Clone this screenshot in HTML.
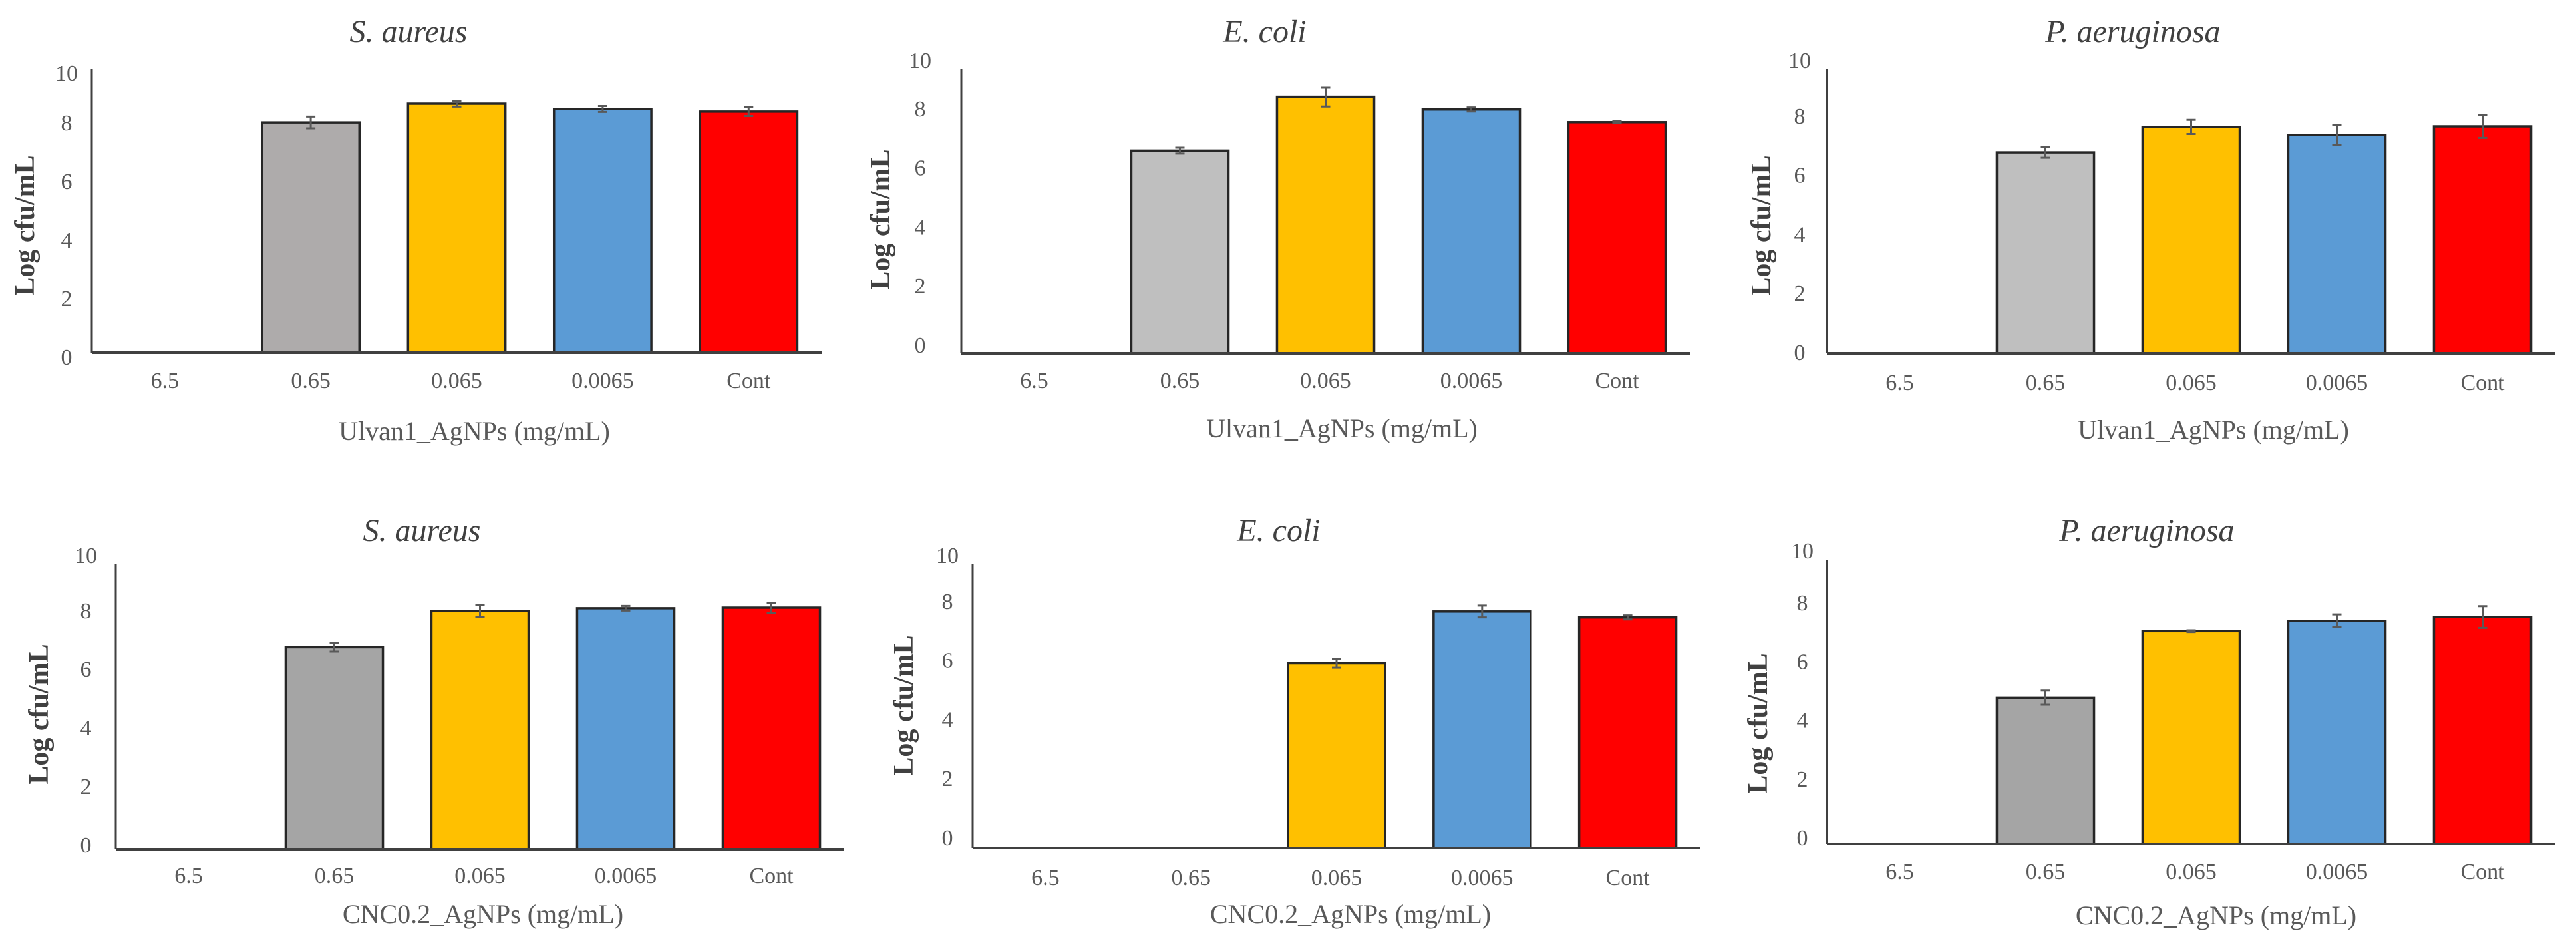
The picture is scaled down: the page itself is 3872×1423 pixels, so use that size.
<!DOCTYPE html>
<html><head><meta charset="utf-8">
<style>
html,body{margin:0;padding:0;background:#fff;}
svg{display:block;font-family:"Liberation Serif",serif;}
</style></head>
<body>
<svg id="fig" width="3872" height="1423" viewBox="0 0 3872 1423" xmlns="http://www.w3.org/2000/svg"></svg>
<script>
const categories = ["6.5","0.65","0.065","0.0065","Cont"];
const yTicks = [0,2,4,6,8,10];
const titles = ["S. aureus","E. coli","P. aeruginosa","S. aureus","E. coli","P. aeruginosa"];
const xTitles = ["Ulvan1_AgNPs (mg/mL)","Ulvan1_AgNPs (mg/mL)","Ulvan1_AgNPs (mg/mL)","CNC0.2_AgNPs (mg/mL)","CNC0.2_AgNPs (mg/mL)","CNC0.2_AgNPs (mg/mL)"];
const valsTL = [0, 7.86, 8.5, 8.32, 8.23];
const errsTL = [0, 0.2, 0.1, 0.1, 0.15];
const valsTM = [0, 6.86, 8.68, 8.25, 7.82];
const errsTM = [0, 0.1, 0.33, 0.07, 0.03];
const valsTR = [0, 6.8, 7.66, 7.39, 7.68];
const errsTR = [0, 0.18, 0.24, 0.33, 0.39];
const valsBL = [0, 6.9, 8.14, 8.23, 8.25];
const errsBL = [0, 0.15, 0.2, 0.08, 0.17];
const valsBM = [0, 0, 6.25, 8.0, 7.8];
const errsBM = [0, 0, 0.15, 0.2, 0.07];
const valsBR = [0, 4.98, 7.25, 7.6, 7.73];
const errsBR = [0, 0.24, 0.03, 0.22, 0.37];

const allVals=[valsTL,valsTM,valsTR,valsBL,valsBM,valsBR];
const allErrs=[errsTL,errsTM,errsTR,errsBL,errsBM,errsBR];
const geo=[
 {x0:138,x1:1235,base:530,top:104,unit:44,lo:6,tx:614,ty:47,xty:571,xtx:713,xtyy:647,ylx:37,yly:339,tlx:100,gray:"#aeabab"},
 {x0:1445,x1:2540,base:531,top:104,unit:44.4,lo:-13,tx:1901,ty:47,xty:571,xtx:2017,xtyy:643,ylx:1323,yly:330,tlx:1383,gray:"#bfbfbf"},
 {x0:2746,x1:3841,base:531,top:104,unit:44.4,lo:-2,tx:3206,ty:47,xty:574,xtx:3327,xtyy:645,ylx:2647,yly:339,tlx:2705,gray:"#bfbfbf"},
 {x0:174,x1:1269,base:1276,top:848,unit:44,lo:-7,tx:634,ty:797,xty:1315,xtx:726,xtyy:1373,ylx:58,yly:1073,tlx:129,gray:"#a5a5a5"},
 {x0:1462,x1:2556,base:1274,top:848,unit:44.4,lo:-16,tx:1922,ty:797,xty:1318,xtx:2030,xtyy:1373,ylx:1358,yly:1060,tlx:1424,gray:"#a5a5a5"},
 {x0:2746,x1:3841,base:1268,top:841,unit:44.1,lo:-10,tx:3227,ty:797,xty:1309,xtx:3331,xtyy:1375,ylx:2642,yly:1087,tlx:2709,gray:"#a5a5a5"}
];
const NS="http://www.w3.org/2000/svg";
const svg=document.getElementById('fig');
function mk(tag,attrs,parent,text){const e=document.createElementNS(NS,tag);for(const k in attrs)e.setAttribute(k,attrs[k]);if(text!==undefined)e.textContent=text;parent.appendChild(e);return e;}
geo.forEach((g,p)=>{
  const grp=mk('g',{},svg);
  
  
  const colors=[g.gray,g.gray,"#ffc000","#5b9bd5","#ff0000"];
  const band=(g.x1-g.x0)/5;
  const xC=i=>g.x0+band*(i+0.5);
  const yS=v=>g.base-v*g.unit;
  const t=mk('text',{x:g.tx,y:g.ty+16,'font-size':48,'font-style':'italic','text-anchor':'middle',fill:'#404040'},grp,titles[p]);
  
  
  yTicks.forEach(v=>{
    let y=yS(v)+g.lo; if(v===10) y=Math.max(y,g.top+ (g.lo>0?5:-14));
    const tl=mk('text',{x:g.tlx,y:y+12,'font-size':34,'text-anchor':'middle',fill:'#595959'},grp,String(v));
    
    
  });
  const yl=mk('text',{x:0,y:0,'font-size':42,'font-weight':'bold','text-anchor':'middle',fill:'#404040',transform:`translate(${g.ylx+14},${g.yly}) rotate(-90)`},grp,'Log cfu/mL');
  
  
  allVals[p].forEach((v,i)=>{
    if(v<=0) return;
    const w=band*0.667;
    const r=mk('rect',{x:xC(i)-w/2,y:yS(v),width:w,height:g.base-yS(v),fill:colors[i],stroke:'#262626','stroke-width':3.5},grp);
    
    
    const e=allErrs[p][i];
    const eb=mk('path',{d:`M${xC(i)} ${yS(v+e)}V${yS(v-e)}M${xC(i)-7} ${yS(v+e)}H${xC(i)+7}M${xC(i)-7} ${yS(v-e)}H${xC(i)+7}`,stroke:'#595959','stroke-width':3,fill:'none'},grp);
    
    
  });
  const ya=mk('line',{x1:g.x0,y1:g.top,x2:g.x0,y2:g.base,stroke:'#404040','stroke-width':3},grp);
  
  
  const xa=mk('line',{x1:g.x0,y1:g.base,x2:g.x1,y2:g.base,stroke:'#404040','stroke-width':4},grp);
  
  
  categories.forEach((c,i)=>{
    const xl=mk('text',{x:xC(i),y:g.xty+12,'font-size':34,'text-anchor':'middle',fill:'#595959'},grp,c);
    
    
  });
  const xt=mk('text',{x:g.xtx,y:g.xtyy+14,'font-size':40,'text-anchor':'middle',fill:'#595959'},grp,xTitles[p]);
  
  
});
</script>
</body></html>
